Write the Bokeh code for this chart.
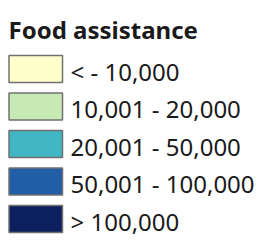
from bokeh.plotting import figure
from bokeh.models import Range1d, ColumnDataSource
from bokeh.core.properties import value
from bokeh.embed import file_html
from bokeh.resources import INLINE

title = "Food assistance"
categories = ["< - 10,000", "10,001 - 20,000", "20,001 - 50,000", "50,001 - 100,000", "> 100,000"]
colors = ["#ffffcc", "#c7e9b4", "#41b6c4", "#225ea8", "#0c2060"]

W, H = 260, 242
p = figure(width=W, height=H, output_backend="svg", toolbar_location=None,
           x_range=Range1d(0, W), y_range=Range1d(H, 0),
           min_border=0, min_border_left=0, min_border_right=0,
           min_border_top=0, min_border_bottom=0)
p.axis.visible = False
p.grid.visible = False
p.outline_line_color = None
p.background_fill_color = "white"
p.border_fill_color = "white"

top0, pitch, bh = 55.0, 37.5, 27.0
tops = [top0 + i * pitch for i in range(len(categories))]
src = ColumnDataSource(dict(
    left=[8.5] * len(categories), right=[62.0] * len(categories),
    top=tops, bottom=[t + bh for t in tops],
    color=colors, label=categories,
    tx=[70.0] * len(categories), ty=[t + bh / 2 + 2 for t in tops],
))
p.quad(left="left", right="right", top="top", bottom="bottom", source=src,
       fill_color="color", line_color="#707070", line_width=1.5)
p.text(x="tx", y="ty", text="label", source=src, text_font=value("Noto Sans"),
       text_font_size="24px", text_color="#1a1a1a", text_baseline="middle",
       text_align="left")
p.text(x=[8.0], y=[28.5], text=[title], text_font=value("Noto Sans"),
       text_font_size="24px", text_font_style="bold", text_color="#1a1a1a",
       text_baseline="middle", text_align="left")

open("out.html", "w").write(file_html(p, INLINE))
